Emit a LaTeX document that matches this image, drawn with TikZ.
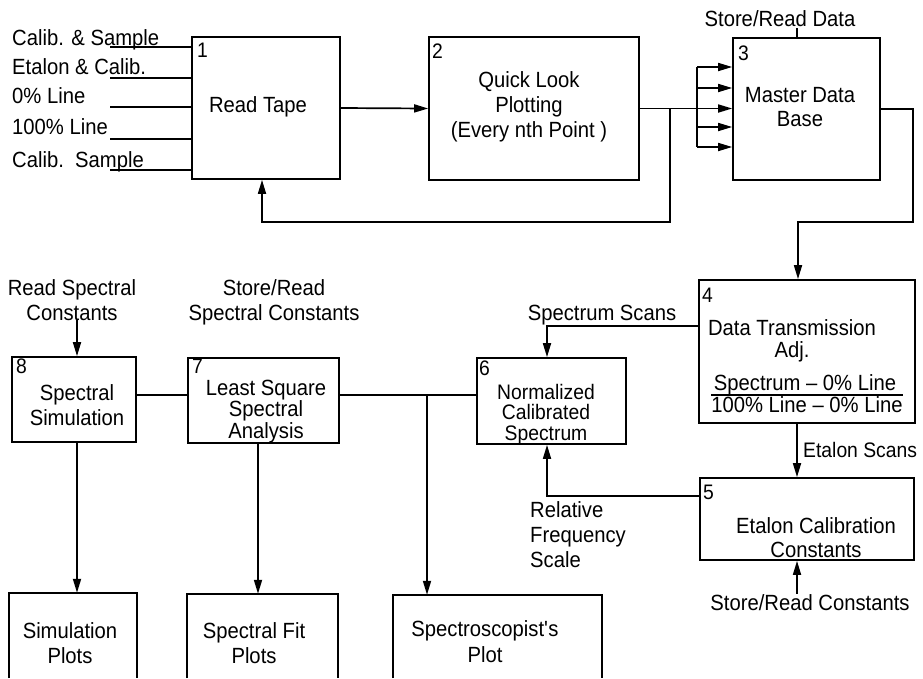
\documentclass[tikz,border=0pt]{standalone}
\usepackage{fontspec}
\setmainfont[FakeStretch=0.92]{Liberation Sans}
\usetikzlibrary{arrows.meta,calc}

\begin{document}
\begin{tikzpicture}[x=1pt,y=-1pt,
  box/.style={draw, line width=1.7pt, rectangle, inner sep=0pt},
  frame/.style={rectangle, inner sep=0pt, draw=none},
  txt/.style={font=\fontsize{22}{25}\selectfont, inner sep=0pt, align=center, anchor=base},
  ltxt/.style={font=\fontsize{22}{25}\selectfont, inner sep=0pt, align=left, anchor=base west},
  num/.style={font=\fontsize{21}{24}\selectfont, inner sep=0pt, anchor=base west},
  wire/.style={line width=1.7pt},
  arr/.style={wire, -{Triangle[length=14pt,width=8pt]}},
]
\useasboundingbox (0,0) rectangle (923,678);
\fill[white] (0,0) rectangle (923,678);

% process boxes
\node[box, minimum width=148pt, minimum height=142pt] (b1) at (266,108) {};
\node[box, minimum width=210pt, minimum height=143pt] (b2) at (534,108.5) {};
\node[box, minimum width=147pt, minimum height=142pt] (b3) at (806.5,109) {};
\node[box, minimum width=216pt, minimum height=143pt] (b4) at (807,351.5) {};
\node[box, minimum width=214pt, minimum height=82pt]  (b5) at (807,519) {};
\node[box, minimum width=149pt, minimum height=86pt]  (b6) at (551.5,401) {};
\node[box, minimum width=151pt, minimum height=85pt]  (b7) at (263.5,400.5) {};
\node[box, minimum width=124pt, minimum height=85pt]  (b8) at (74,399.5) {};

% output boxes, open at the lower edge
\node[frame, minimum width=128pt, minimum height=85pt] (p1) at (73,635.5) {};
\node[frame, minimum width=151pt, minimum height=84pt] (p2) at (262.5,636) {};
\node[frame, minimum width=209pt, minimum height=83pt] (p3) at (497.5,636.5) {};
\foreach \p in {p1,p2,p3}
  \draw[wire] (\p.south west) -- (\p.north west) -- (\p.north east) -- (\p.south east);

% box numbers
\node[num] (n1) at (197,57) {1};
\node[num] (n2) at (432,58) {2};
\node[num] (n3) at (738,60) {3};
\node[num] (n4) at (702,302) {4};
\node[num] (n5) at (703,499) {5};
\node[num] (n6) at (479,375) {6};
\node[num] (n7) at (192,373) {7};
\node[num] (n8) at (16,373) {8};

% box texts (multi-line nodes are placed by the baseline of their last line)
\node[txt] (t1) at (258,112) {Read Tape};
\node[txt] (t2) at (529,137) {Quick Look\\Plotting\\(Every nth Point )};
\node[txt, font=\fontsize{22}{24}\selectfont] (t3) at (800,126) {Master Data\\Base};
\node[txt, font=\fontsize{22}{22}\selectfont] (t4) at (792,357) {Data Transmission\\Adj.};
\node[txt] (t4a) at (805,390) {Spectrum – 0\% Line};
\node[txt] (t4b) at (807,412) {100\% Line – 0\% Line};
\draw[line width=1.4pt] (t4b.west |- 0,395) -- (t4b.east |- 0,395);
\node[txt, font=\fontsize{22}{24}\selectfont] (t5) at (816,557) {Etalon Calibration\\Constants};
\node[txt, font=\fontsize{21}{20.5}\selectfont] (t6) at (546,440) {Normalized\\Calibrated\\Spectrum};
\node[txt, font=\fontsize{22}{21.5}\selectfont] (t7) at (266,438) {Least Square\\Spectral\\Analysis};
\node[txt] (t8) at (77,425) {Spectral\\Simulation};
\node[txt] (tp1) at (70,663) {Simulation\\Plots};
\node[txt] (tp2) at (254,663) {Spectral Fit\\Plots};
\node[txt, font=\fontsize{22}{26}\selectfont] (tp3) at (485,662) {Spectroscopist\textquotesingle s\\Plot};

% input labels of box 1
\node[ltxt] (l1) at (12,45.5) {Calib. \& Sample};
\node[ltxt] (l2) at (12,74) {Etalon \& Calib.};
\node[ltxt] (l3) at (12,103) {0\% Line};
\node[ltxt] (l4) at (12,134) {100\% Line};
\node[ltxt] (l5) at (12,167) {Calib.\ \ Sample};
\foreach \y [count=\i] in {47,78,107,139,170} {
  \coordinate (in\i) at (110,\y);
  \draw[wire] (in\i) -- (in\i -| b1.west);
}

% other labels
\node[txt] (srd) at (780,26) {Store/Read Data};
\node[txt] (ss) at (602,320) {Spectrum Scans};
\node[ltxt, font=\fontsize{21}{24}\selectfont] (es) at (803,457) {Etalon Scans};
\node[ltxt] (rfs) at (530,567) {Relative\\Frequency\\Scale};
\node[txt] (src) at (810,610) {Store/Read Constants};
\node[txt] (rsc) at (72,320) {Read Spectral\\Constants};
\node[txt] (srsc) at (274,320) {Store/Read\\Spectral Constants};

% routing points
\coordinate (bus1) at (697,67);
\coordinate (bus2) at (697,147);
\coordinate (fb1) at (670,222);
\coordinate (fb2) at (262,222);
\coordinate (r1) at (913,222);
\coordinate (r2) at (798,222);
\coordinate (sd) at (797,28);
\coordinate (s1) at (547,326);
\coordinate (ex) at (797,450);
\coordinate (f1) at (547,496);
\coordinate (c8) at (77,0);
\coordinate (c7) at (258,0);
\coordinate (h) at (0,395);
\coordinate (br) at (427,395);

% top row
\draw[arr] (b1.east) -- (b2.west);
\draw[arr] (b2.east) -- (b3.west |- b2.east);
\draw[wire] (bus1) -- (bus2);
\foreach \y in {67,88,127,147}
  \draw[arr] (697,\y) -- (b3.west |- 0,\y);
\draw[arr] (fb1 |- b2.east) -- (fb1) -- (fb2) -- (fb2 |- b1.south);
\draw[wire] (sd |- b3.north) -- (sd);
\draw[arr] (b3.east) -- (b3.east -| r1) -- (r1) -- (r2) -- (r2 |- b4.north);

% right column
\draw[arr] (b4.west |- s1) -- (s1) -- (s1 |- b6.north);
\draw[arr] (ex |- b4.south) -- (ex |- b5.north);
\draw[arr] (b5.west |- f1) -- (f1) -- (f1 |- b6.south);
\draw[arr] (ex |- src.north) -- (ex |- b5.south);

% lower left
\draw[arr] (c8 |- rsc.south) -- (c8 |- b8.north);
\draw[wire] (b8.east |- h) -- (b7.west |- h);
\draw[wire] (b7.east |- h) -- (b6.west |- h);
\draw[arr] (br) -- (br |- p3.north);
\draw[arr] (c8 |- b8.south) -- (c8 |- p1.north);
\draw[arr] (c7 |- b7.south) -- (c7 |- p2.north);
\end{tikzpicture}
\end{document}
